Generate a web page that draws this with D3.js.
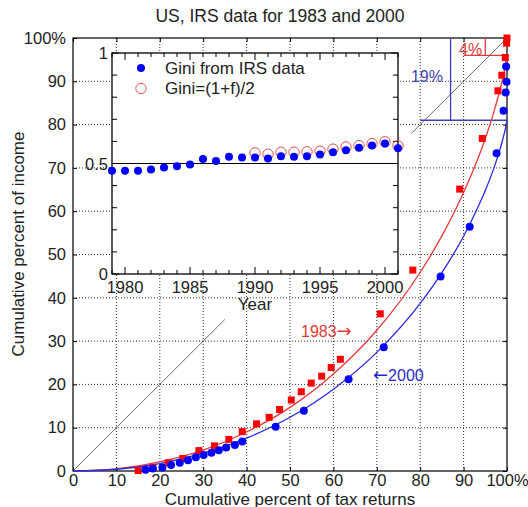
<!DOCTYPE html>
<html>
<head>
<meta charset="utf-8">
<script src="https://cdn.jsdelivr.net/npm/d3@7"></script>
<style>
  body { margin: 0; background: #fff; }
  text { font-family: "Liberation Sans", Arial, sans-serif; }
</style>
</head>
<body>
<div id="chart"></div>
<script>
// Lorenz curves, US IRS data 1983 and 2000, with a Gini inset

// 1983 points (red squares), percent
var red83X = [15.0, 18.4, 21.9, 25.3, 29.0, 32.6, 35.9, 39.0, 42.3, 45.2, 47.6, 50.3, 52.6, 54.9, 57.3, 59.5, 61.6, 70.8, 78.3, 89.1, 94.3, 97.9, 98.8, 99.6, 99.9, 100];
var red83Y = [0.1, 0.85, 1.9, 2.9, 4.7, 5.8, 7.3, 9.1, 10.9, 12.4, 14.2, 16.4, 18.3, 20.3, 21.9, 23.9, 25.8, 36.3, 46.4, 65.1, 76.8, 87.8, 91.4, 95.5, 98.8, 100];

// 2000 points (blue dots), percent
var blue00X = [16.7, 18.4, 20.6, 22.6, 24.6, 26.5, 28.3, 30.1, 31.9, 33.6, 35.3, 37.3, 39.0, 46.7, 53.2, 63.5, 71.6, 84.7, 91.4, 97.6, 99.2, 99.7, 99.9, 99.8];
var blue00Y = [0.3, 0.6, 0.8, 1.4, 1.9, 2.5, 3.2, 3.7, 4.2, 4.8, 5.4, 6.0, 6.8, 10.2, 13.9, 21.2, 28.6, 44.9, 56.4, 73.4, 83.2, 87.4, 89.9, 93.4];

// fitted curves
var curveX = [0, 10, 20, 30, 40, 50, 60, 70, 80, 85, 90, 93, 95, 97, 98, 99, 99.5, 100];
var curve83 = [0, 0.5, 2.1, 4.8, 9.0, 14.7, 22.4, 32.5, 45.9, 54.3, 64.3, 71.4, 76.8, 83.0, 86.6, 90.6, 93.0, 96.0];
var curve00 = [0, 0.4, 1.7, 4.1, 7.6, 12.4, 18.9, 27.4, 38.7, 45.8, 54.2, 60.3, 64.8, 70.0, 73.0, 76.5, 78.5, 81.0];

// diagonal pieces (equality line) that are visible
var diagLow = [[0, 0], [35, 35]];
var diagHigh = [[78, 78], [100, 100]];

// tail boxes
var box00 = [[80, 81], [100, 81], [87, 81], [87, 100]];
var box83 = [[90, 96], [100, 96], [95, 96], [95, 100]];

var mainTicks = [0, 10, 20, 30, 40, 50, 60, 70, 80, 90, 100];

// inset: Gini by year
var giniYears = [1979, 1980, 1981, 1982, 1983, 1984, 1985, 1986, 1987, 1988, 1989, 1990, 1991, 1992, 1993, 1994, 1995, 1996, 1997, 1998, 1999, 2000, 2001];
var giniIRS = [0.467, 0.467, 0.467, 0.473, 0.482, 0.488, 0.495, 0.520, 0.511, 0.530, 0.527, 0.527, 0.523, 0.533, 0.530, 0.533, 0.541, 0.551, 0.560, 0.571, 0.581, 0.590, 0.569];
var fitYears = [1990, 1991, 1992, 1993, 1994, 1995, 1996, 1997, 1998, 1999, 2000, 2001];
var giniFit = [0.548, 0.542, 0.551, 0.551, 0.553, 0.556, 0.565, 0.575, 0.581, 0.590, 0.598, 0.580];
var insetYearLabels = [1980, 1985, 1990, 1995, 2000];
var insetYLabels = [0, 0.5, 1];

var svgWidth = 528, svgHeight = 507;
var margin = {top: 38, right: 21, bottom: 36, left: 73};
var width = svgWidth - margin.left - margin.right;
var height = svgHeight - margin.top - margin.bottom;

var svg = d3.select("#chart").append("svg")
  .attr("width", svgWidth)
  .attr("height", svgHeight);

var x = d3.scaleLinear().domain([0, 100]).range([margin.left, margin.left + width]);
var y = d3.scaleLinear().domain([0, 100]).range([margin.top + height, margin.top]);

// grid
var grid = svg.append("g").attr("stroke", "#000").attr("stroke-width", 0.8).attr("stroke-dasharray", "1,2");
grid.selectAll(".gx").data(mainTicks.slice(1, -1)).enter().append("line")
  .attr("x1", d => x(d)).attr("x2", d => x(d))
  .attr("y1", y(0)).attr("y2", y(100));
grid.selectAll(".gy").data(mainTicks.slice(1, -1)).enter().append("line")
  .attr("y1", d => y(d)).attr("y2", d => y(d))
  .attr("x1", x(0)).attr("x2", x(100));

// axes (ticks inside, box on)
var tl = 4;
svg.append("g").attr("transform", `translate(0,${y(0)})`)
  .call(d3.axisBottom(x).tickValues(mainTicks).tickSizeInner(-tl).tickSizeOuter(0).tickPadding(3)
    .tickFormat(d => d === 100 ? "100%" : d));
svg.append("g").attr("transform", `translate(${x(0)},0)`)
  .call(d3.axisLeft(y).tickValues(mainTicks).tickSizeInner(-tl).tickSizeOuter(0).tickPadding(7)
    .tickFormat(d => d === 100 ? "100%" : d));
svg.append("g").attr("transform", `translate(0,${y(100)})`)
  .call(d3.axisTop(x).tickValues(mainTicks).tickSizeInner(-tl).tickSizeOuter(0).tickFormat(""));
svg.append("g").attr("transform", `translate(${x(100)},0)`)
  .call(d3.axisRight(y).tickValues(mainTicks).tickSizeInner(-tl).tickSizeOuter(0).tickFormat(""));
svg.selectAll(".tick text").attr("font-size", "16.5px").attr("fill", "#222")
  .attr("font-family", "Liberation Sans, Arial, sans-serif");
svg.selectAll(".domain").remove();

svg.append("rect")
  .attr("x", x(0)).attr("y", y(100))
  .attr("width", width).attr("height", height)
  .attr("fill", "none").attr("stroke", "#000").attr("stroke-width", 1.2);

// equality line
var lineXY = d3.line().x(d => x(d[0])).y(d => y(d[1]));
[diagLow, diagHigh].forEach(function(seg) {
  svg.append("path").attr("d", lineXY(seg))
    .attr("stroke", "#444").attr("stroke-width", 0.8).attr("fill", "none");
});

// tail boxes
function drawBox(pts, col) {
  for (var i = 0; i < pts.length; i += 2) {
    svg.append("line")
      .attr("x1", x(pts[i][0])).attr("y1", y(pts[i][1]))
      .attr("x2", x(pts[i + 1][0])).attr("y2", y(pts[i + 1][1]))
      .attr("stroke", col).attr("stroke-width", 1.3);
  }
}
drawBox(box00, "#3f3fb0");
drawBox(box83, "#e03a3a");

// curves
var smooth = d3.line().curve(d3.curveMonotoneX).x((d, i) => x(curveX[i])).y(d => y(d));
svg.append("path").attr("d", smooth(curve83))
  .attr("fill", "none").attr("stroke", "#e8383a").attr("stroke-width", 1.3);
svg.append("path").attr("d", smooth(curve00))
  .attr("fill", "none").attr("stroke", "#2a2ae0").attr("stroke-width", 1.3);

// markers
svg.selectAll(".sq").data(red83X).enter().append("rect")
  .attr("x", (d, i) => x(d) - 3.5).attr("y", (d, i) => y(red83Y[i]) - 3.5)
  .attr("width", 7).attr("height", 7).attr("fill", "#ff0000");
svg.selectAll(".dot").data(blue00X).enter().append("circle")
  .attr("cx", d => x(d)).attr("cy", (d, i) => y(blue00Y[i]))
  .attr("r", 4).attr("fill", "#0000ff");

// labels on main plot
var lab83 = svg.append("text").attr("x", 301).attr("y", 337).attr("font-size", "16px").attr("fill", "#e03a3a");
lab83.append("tspan").text("1983");
lab83.append("tspan").attr("font-family", "DejaVu Sans").attr("font-size", "18px").text("\u2192");
var lab00 = svg.append("text").attr("x", 373).attr("y", 381).attr("font-size", "16px").attr("fill", "#2a2acc");
lab00.append("tspan").attr("font-family", "DejaVu Sans").attr("font-size", "18px").text("\u2190");
lab00.append("tspan").text("2000");
svg.append("text").attr("x", 443).attr("y", 82).attr("text-anchor", "end").attr("font-size", "16px")
  .attr("fill", "#3f3fb0").text("19%");
svg.append("text").attr("x", 459).attr("y", 55).attr("font-size", "16px")
  .attr("fill", "#e03a3a").text("4%");

// titles
svg.append("text").attr("x", 280).attr("y", 22).attr("text-anchor", "middle")
  .attr("font-size", "17.5px").attr("fill", "#222").text("US, IRS data for 1983 and 2000");
svg.append("text").attr("x", 290).attr("y", 505).attr("text-anchor", "middle")
  .attr("font-size", "17px").attr("fill", "#222").text("Cumulative percent of tax returns");
svg.append("text").attr("transform", "translate(24,244) rotate(-90)").attr("text-anchor", "middle")
  .attr("font-size", "17px").attr("fill", "#222").text("Cumulative percent of income");

// ---- inset ----
var ix = d3.scaleLinear().domain([1979, 2001]).range([112, 398]);
var iy = d3.scaleLinear().domain([0, 1]).range([274, 53]);
var inset = svg.append("g");
inset.append("rect").attr("x", ix(1979)).attr("y", iy(1))
  .attr("width", ix(2001) - ix(1979)).attr("height", iy(0) - iy(1))
  .attr("fill", "#fff").attr("stroke", "none");

var yearTicks = d3.range(1979, 2002);
var yTicks = d3.range(0, 11).map(d => d / 10);
yearTicks.forEach(function(yr) {
  var len = yr % 5 === 0 ? 7 : 4;
  inset.append("line").attr("x1", ix(yr)).attr("x2", ix(yr)).attr("y1", iy(0)).attr("y2", iy(0) - len)
    .attr("stroke", "#000").attr("stroke-width", 1);
  inset.append("line").attr("x1", ix(yr)).attr("x2", ix(yr)).attr("y1", iy(1)).attr("y2", iy(1) + len)
    .attr("stroke", "#000").attr("stroke-width", 1);
});
yTicks.forEach(function(v) {
  var len = (Math.round(v * 10) % 5 === 0) ? 7 : 5;
  inset.append("line").attr("y1", iy(v)).attr("y2", iy(v)).attr("x1", ix(1979)).attr("x2", ix(1979) + len)
    .attr("stroke", "#000").attr("stroke-width", 1);
  inset.append("line").attr("y1", iy(v)).attr("y2", iy(v)).attr("x1", ix(2001)).attr("x2", ix(2001) - len)
    .attr("stroke", "#000").attr("stroke-width", 1);
});
inset.append("rect").attr("x", ix(1979)).attr("y", iy(1))
  .attr("width", ix(2001) - ix(1979)).attr("height", iy(0) - iy(1))
  .attr("fill", "none").attr("stroke", "#000").attr("stroke-width", 1.3);

inset.selectAll(".yl").data(insetYearLabels).enter().append("text")
  .attr("x", d => ix(d)).attr("y", 293).attr("text-anchor", "middle")
  .attr("font-size", "16.5px").attr("fill", "#222").text(d => d);
inset.selectAll(".vl").data(insetYLabels).enter().append("text")
  .attr("x", 108).attr("y", d => iy(d) + 6).attr("text-anchor", "end")
  .attr("font-size", "16.5px").attr("fill", "#222").text(d => d);
inset.append("text").attr("x", 255).attr("y", 310).attr("text-anchor", "middle")
  .attr("font-size", "17px").attr("fill", "#222").text("Year");

// 0.5 reference line
inset.append("line").attr("x1", ix(1979)).attr("x2", ix(2001))
  .attr("y1", iy(0.5)).attr("y2", iy(0.5)).attr("stroke", "#000").attr("stroke-width", 1.2);

inset.selectAll(".oc").data(fitYears).enter().append("circle")
  .attr("cx", d => ix(d)).attr("cy", (d, i) => iy(giniFit[i]))
  .attr("r", 5.2).attr("fill", "none").attr("stroke", "#e05050").attr("stroke-width", 1);
inset.selectAll(".gd").data(giniYears).enter().append("circle")
  .attr("cx", d => ix(d)).attr("cy", (d, i) => iy(giniIRS[i]))
  .attr("r", 4).attr("fill", "#0000ff");

// legend
inset.append("circle").attr("cx", 141).attr("cy", 68).attr("r", 4).attr("fill", "#0000ff");
inset.append("text").attr("x", 165).attr("y", 74).attr("font-size", "17px").attr("fill", "#222")
  .text("Gini from IRS data");
inset.append("circle").attr("cx", 141).attr("cy", 88.5).attr("r", 5.2)
  .attr("fill", "none").attr("stroke", "#e05050").attr("stroke-width", 1);
inset.append("text").attr("x", 165).attr("y", 94).attr("font-size", "17px").attr("fill", "#222")
  .text("Gini=(1+f)/2");
</script>
</body>
</html>
